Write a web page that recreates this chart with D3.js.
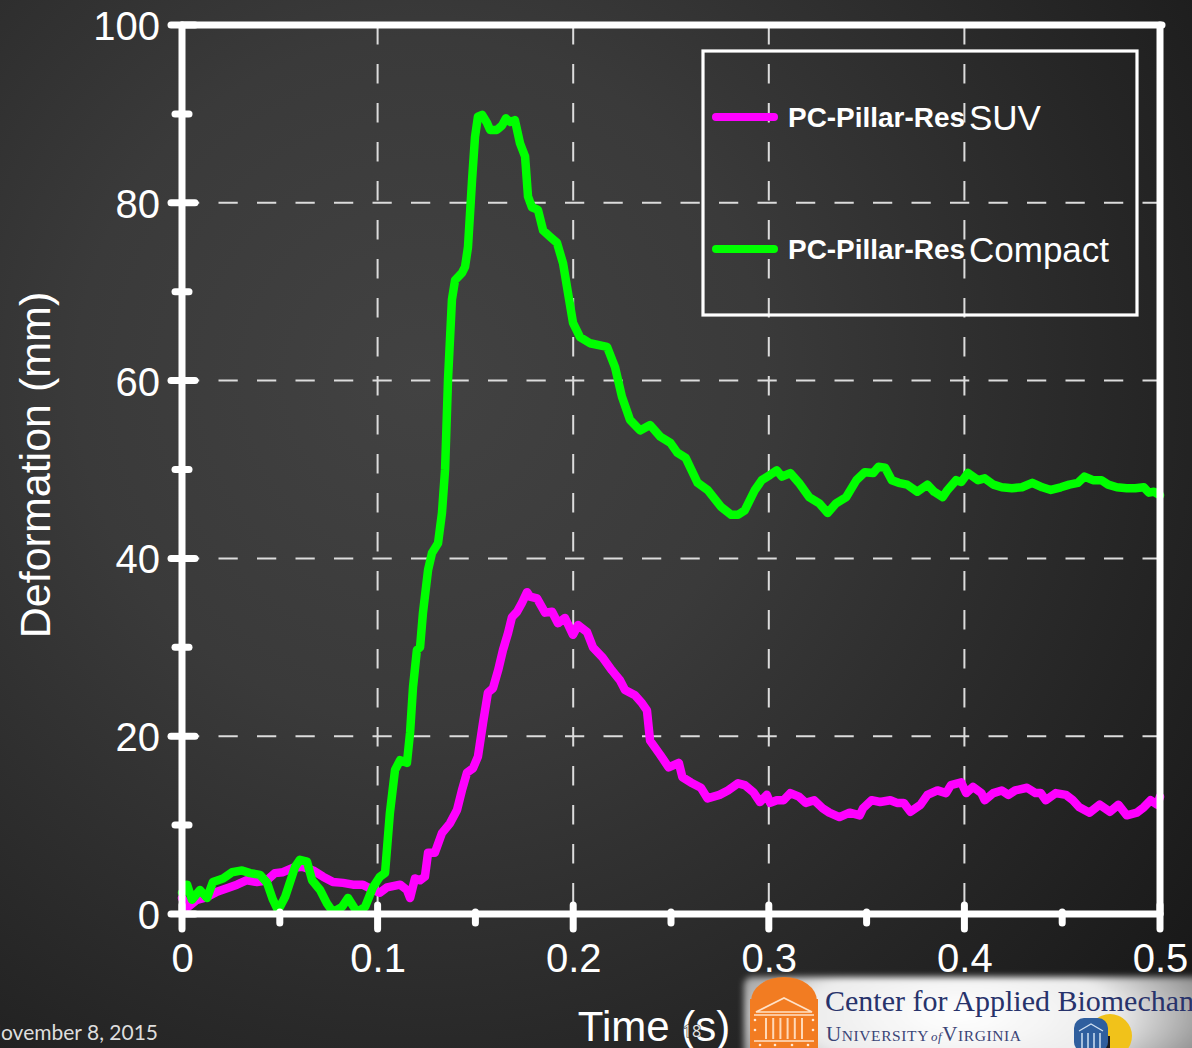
<!DOCTYPE html>
<html>
<head>
<meta charset="utf-8">
<script src="https://cdn.jsdelivr.net/npm/d3@7"></script>
<style>
  html, body { margin: 0; padding: 0; background: #262626; overflow: hidden; }
  svg { display: block; }
</style>
</head>
<body>
<svg id="chart" width="1192" height="1048"></svg>
<script>
// ---- Data: deformation (mm) versus time (s) ----
const timeSUV = [
  0.0000, 0.0031, 0.0077, 0.0128, 0.0179, 0.0230, 0.0281, 0.0332, 0.0383, 0.0435,
  0.0475, 0.0516, 0.0567, 0.0619, 0.0670, 0.0721, 0.0772, 0.0823, 0.0874, 0.0925,
  0.0976, 0.1012, 0.1048, 0.1115, 0.1150, 0.1166, 0.1191, 0.1217, 0.1242, 0.1258,
  0.1293, 0.1329, 0.1370, 0.1406, 0.1431, 0.1457, 0.1488, 0.1513, 0.1539, 0.1564,
  0.1590, 0.1616, 0.1641, 0.1667, 0.1687, 0.1713, 0.1738, 0.1764, 0.1779, 0.1815,
  0.1856, 0.1892, 0.1922, 0.1958, 0.1999, 0.2025, 0.2071, 0.2101, 0.2152, 0.2198,
  0.2239, 0.2265, 0.2316, 0.2352, 0.2377, 0.2393, 0.2445, 0.2488, 0.2540, 0.2558,
  0.2601, 0.2653, 0.2687, 0.2748, 0.2791, 0.2843, 0.2877, 0.2921, 0.2955, 0.2990,
  0.3007, 0.3041, 0.3076, 0.3110, 0.3154, 0.3189, 0.3232, 0.3275, 0.3309, 0.3361,
  0.3413, 0.3465, 0.3482, 0.3525, 0.3569, 0.3621, 0.3655, 0.3690, 0.3724, 0.3776,
  0.3811, 0.3862, 0.3906, 0.3931, 0.3984, 0.4009, 0.4044, 0.4087, 0.4104, 0.4148,
  0.4191, 0.4225, 0.4260, 0.4320, 0.4364, 0.4390, 0.4416, 0.4467, 0.4519, 0.4554,
  0.4588, 0.4640, 0.4692, 0.4744, 0.4787, 0.4830, 0.4882, 0.4917, 0.4952, 0.4986,
  0.5000
];
const deformationSUV = [
  1.8, 0.8, 1.6, 1.9, 2.5, 2.9, 3.3, 3.8, 3.6, 3.8,
  4.6, 4.7, 5.2, 5.3, 4.9, 4.2, 3.6, 3.5, 3.3, 3.3,
  2.7, 2.4, 3.0, 3.3, 2.7, 1.8, 4.0, 3.8, 4.2, 6.9,
  6.9, 9.1, 10.2, 11.7, 13.9, 15.9, 16.4, 17.7, 21.5, 24.9,
  25.4, 27.4, 29.7, 31.6, 33.4, 34.0, 35.0, 36.2, 35.7, 35.5,
  33.9, 34.0, 32.7, 33.3, 31.4, 32.5, 31.7, 30.0, 28.8, 27.4,
  26.3, 25.2, 24.6, 23.7, 22.9, 19.5, 17.9, 16.5, 17.0, 15.4,
  14.8, 14.2, 13.0, 13.4, 13.9, 14.7, 14.5, 13.7, 12.6, 13.4,
  12.5, 12.8, 12.8, 13.6, 13.2, 12.5, 12.8, 11.9, 11.4, 10.9,
  11.4, 11.1, 11.9, 12.8, 12.6, 12.8, 12.5, 12.5, 11.5, 12.3,
  13.4, 13.9, 13.6, 14.5, 14.8, 13.6, 14.3, 13.6, 12.8, 13.6,
  13.9, 13.4, 13.9, 14.2, 13.6, 13.6, 12.8, 13.6, 13.4, 12.8,
  12.0, 11.4, 12.3, 11.5, 12.3, 11.1, 11.4, 12.0, 12.8, 12.3,
  13.2
];

const timeCompact = [
  0.0000, 0.0026, 0.0051, 0.0092, 0.0128, 0.0158, 0.0210, 0.0256, 0.0307, 0.0348,
  0.0399, 0.0435, 0.0465, 0.0491, 0.0527, 0.0578, 0.0603, 0.0639, 0.0665, 0.0706,
  0.0741, 0.0772, 0.0818, 0.0849, 0.0895, 0.0936, 0.0976, 0.1012, 0.1038, 0.1063,
  0.1089, 0.1115, 0.1150, 0.1166, 0.1181, 0.1201, 0.1217, 0.1232, 0.1258, 0.1278,
  0.1309, 0.1329, 0.1345, 0.1360, 0.1380, 0.1396, 0.1431, 0.1447, 0.1462, 0.1483,
  0.1498, 0.1513, 0.1534, 0.1559, 0.1575, 0.1610, 0.1636, 0.1656, 0.1677, 0.1702,
  0.1728, 0.1754, 0.1769, 0.1789, 0.1820, 0.1846, 0.1881, 0.1917, 0.1948, 0.1999,
  0.2035, 0.2086, 0.2173, 0.2214, 0.2249, 0.2290, 0.2342, 0.2393, 0.2445, 0.2497,
  0.2532, 0.2575, 0.2636, 0.2687, 0.2756, 0.2808, 0.2843, 0.2877, 0.2929, 0.2964,
  0.3007, 0.3041, 0.3067, 0.3110, 0.3154, 0.3206, 0.3258, 0.3301, 0.3344, 0.3396,
  0.3448, 0.3491, 0.3534, 0.3560, 0.3595, 0.3629, 0.3664, 0.3707, 0.3759, 0.3811,
  0.3845, 0.3889, 0.3914, 0.3958, 0.3984, 0.4018, 0.4070, 0.4104, 0.4148, 0.4191,
  0.4243, 0.4294, 0.4347, 0.4398, 0.4442, 0.4493, 0.4536, 0.4580, 0.4614, 0.4657,
  0.4701, 0.4735, 0.4779, 0.4830, 0.4874, 0.4917, 0.4943, 0.4969, 0.5000
];
const deformationCompact = [
  2.4, 3.3, 1.6, 2.7, 1.8, 3.6, 4.0, 4.7, 4.9, 4.6,
  4.4, 3.5, 1.6, 0.4, 1.9, 5.3, 6.1, 5.9, 3.8, 2.7,
  1.2, 0.2, 0.8, 1.8, 0.2, 0.8, 3.0, 4.2, 4.6, 11.4,
  16.2, 17.3, 17.0, 20.4, 25.5, 29.7, 30.0, 33.9, 38.7, 40.6,
  41.7, 45.1, 50.0, 60.1, 69.1, 71.3, 72.1, 72.8, 75.0, 82.6,
  87.4, 89.7, 89.9, 89.0, 88.2, 88.2, 88.7, 89.5, 89.1, 89.3,
  86.7, 85.2, 80.7, 79.5, 79.2, 76.9, 76.2, 75.5, 73.2, 66.5,
  64.9, 64.2, 63.8, 61.5, 58.2, 55.6, 54.4, 55.0, 53.7, 53.0,
  51.9, 51.3, 48.5, 47.7, 45.8, 44.9, 44.9, 45.4, 47.7, 48.8,
  49.4, 49.9, 49.2, 49.6, 48.5, 46.9, 46.2, 45.1, 46.2, 46.9,
  48.8, 49.7, 49.6, 50.3, 50.2, 48.8, 48.5, 48.3, 47.5, 48.3,
  47.5, 46.9, 47.7, 48.8, 48.6, 49.6, 48.8, 49.0, 48.3, 48.0,
  47.9, 48.0, 48.5, 48.0, 47.7, 48.0, 48.3, 48.5, 49.2, 48.8,
  48.8, 48.3, 48.0, 47.9, 47.9, 48.0, 47.4, 47.5, 47.1
];

const xTickValues = [0, 0.1, 0.2, 0.3, 0.4, 0.5];
const xMinorValues = [0.05, 0.15, 0.25, 0.35, 0.45];
const yTickValues = [0, 20, 40, 60, 80, 100];
const yMinorValues = [10, 30, 50, 70, 90];
const xGridValues = [0.1, 0.2, 0.3, 0.4];
const yGridValues = [20, 40, 60, 80];

const legendPrefix = ["PC-Pillar-Res", "PC-Pillar-Res"];
const legendSuffix = ["SUV", "Compact"];
const seriesColors = ["#ff00ff", "#00ff00"];

const xLabel = "Time (s)";
const yLabel = "Deformation (mm)";
const footerDate = "November 8, 2015";
const slideNumber = "18";

// ---- Layout ----
const W = 1192, H = 1048;
const plot = { left: 182, right: 1160, top: 25, bottom: 914 };
const FONT = "'Liberation Sans', Arial, Helvetica, sans-serif";

const svg = d3.select("#chart");
const defs = svg.append("defs");

// slide background: dark radial gradient
const bg = defs.append("radialGradient")
  .attr("id", "slideBg").attr("gradientUnits", "userSpaceOnUse")
  .attr("cx", 420).attr("cy", 380).attr("r", 980);
bg.append("stop").attr("offset", 0).attr("stop-color", "#424242");
bg.append("stop").attr("offset", 0.35).attr("stop-color", "#3a3a3a");
bg.append("stop").attr("offset", 0.75).attr("stop-color", "#252525");
bg.append("stop").attr("offset", 1).attr("stop-color", "#181818");
svg.append("rect").attr("width", W).attr("height", H).attr("fill", "url(#slideBg)");

const x = d3.scaleLinear().domain([0, 0.5]).range([plot.left, plot.right]);
const y = d3.scaleLinear().domain([0, 100]).range([plot.bottom, plot.top]);

// ---- Dashed grid ----
const grid = svg.append("g").attr("stroke", "#dcdcdc").attr("stroke-width", 2);
grid.selectAll("line.v").data(xGridValues).join("line")
  .attr("class", "v")
  .attr("x1", d => x(d)).attr("x2", d => x(d))
  .attr("y1", plot.top).attr("y2", plot.bottom)
  .attr("stroke-dasharray", "19.5,19.5");
grid.selectAll("line.h").data(yGridValues).join("line")
  .attr("class", "h")
  .attr("x1", plot.left - 2).attr("x2", plot.right)
  .attr("y1", d => y(d)).attr("y2", d => y(d))
  .attr("stroke-dasharray", "19.25,19.25");

// ---- Curves ----
const line = d3.line().x(d => x(d[0])).y(d => y(d[1])).curve(d3.curveLinear);
const seriesSUV = timeSUV.map((t, i) => [t, deformationSUV[i]]);
const seriesCompact = timeCompact.map((t, i) => [t, deformationCompact[i]]);

[seriesSUV, seriesCompact].forEach((s, i) => {
  svg.append("path").datum(s)
    .attr("d", line)
    .attr("fill", "none")
    .attr("stroke", seriesColors[i])
    .attr("stroke-width", 8.5)
    .attr("stroke-linejoin", "round")
    .attr("stroke-linecap", "round");
});

// ---- Axes (labels via d3 axes, frame and ticks drawn on top) ----
const yAxis = d3.axisLeft(y).tickValues(yTickValues).tickSize(0).tickPadding(22)
  .tickFormat(d3.format("d"));
const yAxisG = svg.append("g").attr("transform", `translate(${plot.left},0)`).call(yAxis);
yAxisG.select(".domain").remove();
yAxisG.selectAll("text")
  .attr("fill", "#ffffff").attr("font-family", FONT).attr("font-size", 40)
  .attr("dy", "0.36em");

const xAxis = d3.axisBottom(x).tickValues(xTickValues).tickSize(0).tickPadding(30)
  .tickFormat(d => d === 0 ? "0" : d3.format(".1f")(d));
const xAxisG = svg.append("g").attr("transform", `translate(0,${plot.bottom})`).call(xAxis);
xAxisG.select(".domain").remove();
xAxisG.selectAll("text")
  .attr("fill", "#ffffff").attr("font-family", FONT).attr("font-size", 40);

const frame = svg.append("g")
  .attr("stroke", "#ffffff").attr("stroke-width", 7).attr("stroke-linecap", "round");
// box
frame.append("line").attr("x1", plot.left).attr("x2", plot.left).attr("y1", plot.top).attr("y2", plot.bottom);
frame.append("line").attr("x1", plot.left).attr("x2", plot.right).attr("y1", plot.bottom).attr("y2", plot.bottom);
frame.append("line").attr("x1", plot.left).attr("x2", plot.right + 2).attr("y1", plot.top).attr("y2", plot.top);
frame.append("line").attr("x1", plot.right).attr("x2", plot.right).attr("y1", plot.top).attr("y2", plot.bottom);
// y ticks
frame.selectAll("line.ymaj").data(yTickValues).join("line").attr("class", "ymaj")
  .attr("x1", plot.left - 11).attr("x2", plot.left + 13)
  .attr("y1", d => y(d)).attr("y2", d => y(d));
frame.selectAll("line.ymin").data(yMinorValues).join("line").attr("class", "ymin")
  .attr("x1", plot.left - 7).attr("x2", plot.left + 7)
  .attr("y1", d => y(d)).attr("y2", d => y(d));
// x ticks
frame.selectAll("line.xmaj").data(xTickValues).join("line").attr("class", "xmaj")
  .attr("x1", d => x(d)).attr("x2", d => x(d))
  .attr("y1", plot.bottom - 9).attr("y2", plot.bottom + 15);
frame.selectAll("line.xmin").data(xMinorValues).join("line").attr("class", "xmin")
  .attr("x1", d => x(d)).attr("x2", d => x(d))
  .attr("y1", plot.bottom - 2).attr("y2", plot.bottom + 9);

// ---- Axis titles ----
svg.append("text")
  .attr("transform", `translate(50,465) rotate(-90)`)
  .attr("text-anchor", "middle")
  .attr("fill", "#ffffff").attr("font-family", FONT).attr("font-size", 43)
  .text(yLabel);

svg.append("text")
  .attr("x", 654).attr("y", 1041)
  .attr("text-anchor", "middle")
  .attr("fill", "#ffffff").attr("font-family", FONT).attr("font-size", 42)
  .text(xLabel);

// slide number sitting over the axis title
svg.append("text")
  .attr("x", 692).attr("y", 1037)
  .attr("text-anchor", "middle")
  .attr("fill", "#e6e6e6").attr("stroke", "#2b2b2b").attr("stroke-width", 1)
  .attr("paint-order", "stroke")
  .attr("font-family", "'Open Sans', sans-serif").attr("font-size", 16)
  .text(slideNumber);

// ---- Legend ----
const legend = svg.append("g");
legend.append("rect")
  .attr("x", 703).attr("y", 51).attr("width", 434).attr("height", 264)
  .attr("fill", "none").attr("stroke", "#ffffff").attr("stroke-width", 3.2);
const legendRows = [117, 249];
legendRows.forEach((ly, i) => {
  legend.append("line")
    .attr("x1", 716).attr("x2", 774).attr("y1", ly).attr("y2", ly)
    .attr("stroke", seriesColors[i]).attr("stroke-width", 8).attr("stroke-linecap", "round");
  const t = legend.append("text")
    .attr("x", 788).attr("y", ly + 10)
    .attr("fill", "#ffffff").attr("font-family", FONT);
  t.append("tspan").attr("font-weight", "bold").attr("font-size", 28)
    .attr("textLength", 177).attr("lengthAdjust", "spacingAndGlyphs")
    .text(legendPrefix[i]);
  t.append("tspan").attr("x", 969).attr("dy", 3).attr("font-size", 35).text(legendSuffix[i]);
});

// ---- Footer date ----
svg.append("text")
  .attr("x", 158).attr("y", 1040)
  .attr("text-anchor", "end")
  .attr("fill", "#dedede").attr("font-family", "Lato, 'Open Sans', sans-serif").attr("font-size", 21)
  .text(footerDate);

// ---- Institution banner ----
const banner = svg.append("g");
const bannerBg = defs.append("radialGradient")
  .attr("id", "bannerBg").attr("gradientUnits", "userSpaceOnUse")
  .attr("cx", 960).attr("cy", 1015).attr("r", 260)
  .attr("gradientTransform", "translate(960,1015) scale(1,0.35) translate(-960,-1015)");
bannerBg.append("stop").attr("offset", 0).attr("stop-color", "#ffffff");
bannerBg.append("stop").attr("offset", 0.6).attr("stop-color", "#ececec");
bannerBg.append("stop").attr("offset", 1).attr("stop-color", "#8d8d8d");
const soft = defs.append("filter").attr("id", "soft")
  .attr("x", "-10%").attr("y", "-30%").attr("width", "120%").attr("height", "160%");
soft.append("feGaussianBlur").attr("stdDeviation", 3);
banner.append("rect")
  .attr("x", 744).attr("y", 977).attr("width", 470).attr("height", 90)
  .attr("rx", 8).attr("fill", "url(#bannerBg)").attr("filter", "url(#soft)");

// rotunda emblem
const orange = "#f27c22";
const emb = banner.append("g");
emb.append("path").attr("d", "M751,1001 A33,24 0 0 1 817,1001 Z").attr("fill", orange);
emb.append("rect").attr("x", 750).attr("y", 999).attr("width", 68).attr("height", 49).attr("fill", orange);
emb.append("path").attr("d", "M756,1012 L784,998 L812,1012 Z")
  .attr("fill", "none").attr("stroke", "#ffe2c8").attr("stroke-width", 1.6);
emb.append("line").attr("x1", 754).attr("x2", 814).attr("y1", 1015).attr("y2", 1015)
  .attr("stroke", "#ffe2c8").attr("stroke-width", 1.4);
d3.range(6).forEach(k => {
  emb.append("line")
    .attr("x1", 766 + k * 7.2).attr("x2", 766 + k * 7.2)
    .attr("y1", 1018).attr("y2", 1039)
    .attr("stroke", "#ffd9b8").attr("stroke-width", 2);
});
emb.append("line").attr("x1", 754).attr("x2", 814).attr("y1", 1041).attr("y2", 1041)
  .attr("stroke", "#ffe2c8").attr("stroke-width", 1.4);
[[755, 1020], [813, 1020], [755, 1030], [813, 1030], [760, 1045], [775, 1045], [792, 1045], [808, 1045]]
  .forEach(p => emb.append("circle").attr("cx", p[0]).attr("cy", p[1]).attr("r", 1.3).attr("fill", "#ffe9d6"));

banner.append("text")
  .attr("x", 825).attr("y", 1011)
  .attr("fill", "#28336b").attr("font-family", "'Liberation Serif', 'Times New Roman', serif")
  .attr("font-size", 30)
  .text("Center for Applied Biomechanics");

const uva = banner.append("text")
  .attr("x", 826).attr("y", 1041)
  .attr("fill", "#3b4476").attr("font-family", "'Liberation Serif', 'Times New Roman', serif")
  .attr("letter-spacing", 0.6);
uva.append("tspan").attr("font-size", 21).text("U");
uva.append("tspan").attr("font-size", 15.5).text("NIVERSITY");
uva.append("tspan").attr("font-size", 13).attr("font-style", "italic").attr("dx", 2).text("of");
uva.append("tspan").attr("font-size", 21).text("V");
uva.append("tspan").attr("font-size", 15.5).text("IRGINIA");

// small round seal
const seal = banner.append("g");
seal.append("circle").attr("cx", 1110).attr("cy", 1036).attr("r", 22).attr("fill", "#f1c21a");
seal.append("path").attr("d", "M1110,1036 L1110,1058 A22,22 0 0 1 1088,1036 Z").attr("fill", "#1b1b1b");
seal.append("rect").attr("x", 1074).attr("y", 1018).attr("width", 34).attr("height", 34).attr("rx", 10)
  .attr("fill", "#2f5f9e");
d3.range(4).forEach(k => {
  seal.append("line").attr("x1", 1082 + k * 6).attr("x2", 1082 + k * 6)
    .attr("y1", 1033).attr("y2", 1048).attr("stroke", "#cfe0f2").attr("stroke-width", 1.5);
});
seal.append("path").attr("d", "M1079,1031 L1091,1024 L1103,1031").attr("fill", "none")
  .attr("stroke", "#cfe0f2").attr("stroke-width", 1.3);
</script>
</body>
</html>
